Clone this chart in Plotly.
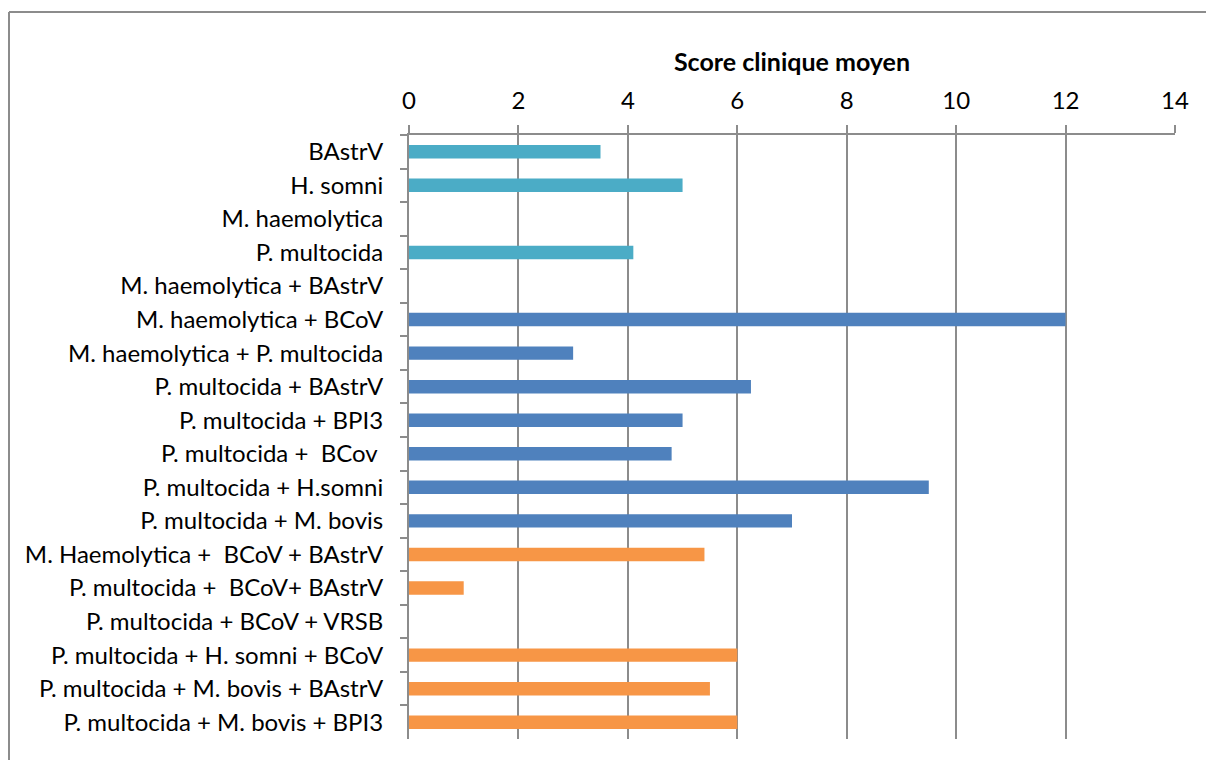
import plotly.graph_objects as go

categories = [
    "BAstrV",
    "H. somni",
    "M. haemolytica",
    "P. multocida",
    "M. haemolytica + BAstrV",
    "M. haemolytica + BCoV",
    "M. haemolytica + P. multocida",
    "P. multocida + BAstrV",
    "P. multocida + BPI3",
    "P. multocida +  BCov ",
    "P. multocida + H.somni",
    "P. multocida + M. bovis",
    "M. Haemolytica +  BCoV + BAstrV",
    "P. multocida +  BCoV+ BAstrV",
    "P. multocida + BCoV + VRSB",
    "P. multocida + H. somni + BCoV",
    "P. multocida + M. bovis + BAstrV",
    "P. multocida + M. bovis + BPI3",
]
values = [3.5, 5.0, 0, 4.1, 0, 12.0, 3.0, 6.25, 5.0, 4.8, 9.5, 7.0, 5.4, 1.0, 0, 6.0, 5.5, 6.0]
group_sizes = [4, 8, 6]
group_colors = ["#4BACC6", "#4F81BD", "#F79646"]
x_ticks = [0, 2, 4, 6, 8, 10, 12, 14]

# figure is placed at (8, 8) in the page by the default body margin
W, H = 1206, 752
L, R, T, B = 401, 1167, 127, 731

fig = go.Figure()
start = 0
for n, col in zip(group_sizes, group_colors):
    cats = categories[start:start + n]
    vals = values[start:start + n]
    fig.add_trace(go.Bar(
        y=cats, x=vals, orientation="h",
        marker=dict(color=col, line=dict(width=0)),
        width=0.4, showlegend=False,
    ))
    start += n

grid = "#8c8c8c"
fig.update_layout(
    width=W, height=H,
    margin=dict(l=L, r=W - R, t=T, b=H - B, pad=0),
    paper_bgcolor="white", plot_bgcolor="white",
    barmode="overlay",
    font=dict(family="Lato", size=24, color="black"),
    xaxis=dict(
        side="top", range=[0, 14], tickvals=x_ticks,
        showgrid=True, gridcolor=grid, gridwidth=2,
        zeroline=False, showline=True, linecolor=grid, linewidth=2,
        ticks="outside", ticklen=8, tickcolor=grid, tickwidth=2,
        ticklabelstandoff=6,
        title=dict(text="<b>Score clinique moyen</b>", font=dict(size=25), standoff=7),
        tickfont=dict(size=24),
    ),
    yaxis=dict(
        categoryorder="array", categoryarray=categories,
        autorange="reversed",
        showgrid=False, zeroline=False,
        showline=True, linecolor=grid, linewidth=2,
        ticks="outside", ticklen=7, tickcolor=grid, tickwidth=2,
        tickson="boundaries", ticklabelstandoff=19,
        tickfont=dict(size=24),
    ),
    shapes=[
        dict(type="line", xref="paper", yref="paper",
             x0=(1 - L) / (R - L), x1=(W + 20 - L) / (R - L),
             y0=1 + (T - 4) / (B - T), y1=1 + (T - 4) / (B - T),
             line=dict(color="#8c8c8c", width=2)),
        dict(type="line", xref="paper", yref="paper",
             x0=(1 - L) / (R - L), x1=(1 - L) / (R - L),
             y0=1 + (T - 4) / (B - T), y1=-(H + 20 - B) / (B - T),
             line=dict(color="#8c8c8c", width=2)),
    ],
)

fig.write_html("out.html")
